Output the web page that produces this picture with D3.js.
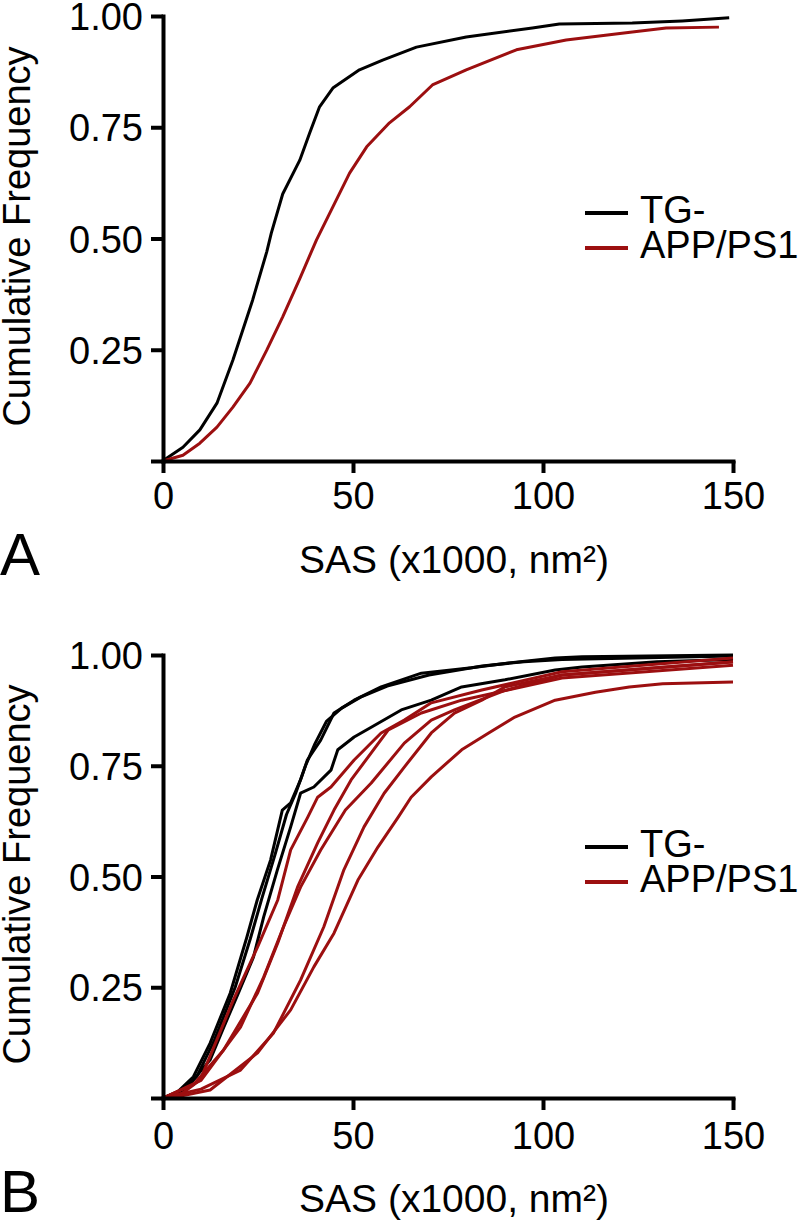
<!DOCTYPE html>
<html><head><meta charset="utf-8">
<script src="https://cdn.jsdelivr.net/npm/d3@7/dist/d3.min.js"></script>
<style>html,body{margin:0;padding:0;background:#fff;}svg{display:block;font-family:"Liberation Sans",Arial,sans-serif;}</style>
</head><body>
<svg id="chart" width="800" height="1222"></svg>
<script>
// ---- data ----
const xTicks = [0, 50, 100, 150];
const yTicks = [0, 0.25, 0.5, 0.75, 1.0];
const yTickLabels = ["", "0.25", "0.50", "0.75", "1.00"];
const legendLabels = ["TG-", "APP/PS1"];
const xLabel = "SAS (x1000, nm²)";
const yLabel = "Cumulative Frequency";

// Panel A
const aTg = [[0,0],[1.05,0.007],[5.25,0.031],[9.7,0.07],[14.2,0.13],[18.4,0.227],[23.6,0.362],[27.3,0.47],[28.5,0.512],[31.5,0.6],[36,0.676],[38.6,0.737],[41.2,0.796],[44.7,0.838],[51.7,0.879],[57.8,0.901],[66.7,0.93],[79.8,0.953],[97.2,0.973],[104.3,0.982],[123.5,0.984],[136.6,0.989],[149,0.996]];
const aApp = [[0,0],[5.25,0.013],[9.7,0.04],[14.2,0.076],[18.4,0.121],[22.9,0.175],[27.3,0.249],[31.5,0.324],[36,0.41],[40.4,0.497],[44.7,0.571],[49.1,0.647],[53.6,0.706],[59.6,0.76],[64.9,0.796],[70.9,0.845],[79.8,0.879],[93,0.924],[106.1,0.946],[123.5,0.964],[132.4,0.973],[146.3,0.975]];

// Panel B
const bTg1 = [[0,0],[4,0.015],[8,0.048],[12.4,0.124],[17.7,0.237],[22.1,0.364],[24.8,0.447],[28.3,0.537],[31.4,0.65],[33.6,0.666],[36.2,0.718],[38,0.763],[41.5,0.808],[45,0.869],[50.3,0.898],[57.4,0.928],[68,0.959],[81.2,0.971],[91,0.982],[103.2,0.993],[110.3,0.996],[150,1.0]];
const bTg2 = [[0,0],[5,0.015],[9,0.05],[13.5,0.13],[19,0.25],[23,0.36],[26,0.45],[29.5,0.55],[32.5,0.64],[35,0.69],[37.5,0.75],[40,0.8],[43,0.85],[47,0.88],[52,0.905],[59,0.93],[70,0.955],[84,0.975],[95,0.985],[105,0.99],[150,0.998]];
const bTg3 = [[0,0],[6,0.02],[12.4,0.086],[16,0.16],[20,0.24],[23.8,0.318],[26.5,0.409],[30.1,0.515],[33.6,0.612],[36.2,0.688],[39.7,0.702],[44.2,0.74],[46,0.786],[50.3,0.815],[54.8,0.837],[62.7,0.876],[70.6,0.898],[78.6,0.928],[90,0.944],[103.2,0.966],[110.3,0.973],[130,0.985],[150,0.99]];
const bApp1 = [[0,0],[5,0.01],[9.8,0.041],[18.5,0.221],[24.9,0.341],[30.2,0.447],[33.6,0.56],[38.1,0.634],[40.7,0.679],[44.2,0.702],[50.3,0.763],[57.4,0.824],[63.5,0.853],[70.6,0.892],[83.9,0.921],[105,0.962],[150,0.993]];
const bApp2 = [[0,0],[8,0.03],[15.9,0.108],[24.9,0.237],[30.2,0.35],[35.4,0.476],[40.7,0.576],[45,0.65],[49.5,0.718],[59.3,0.831],[68,0.869],[78.6,0.898],[105,0.948],[150,0.977]];
const bApp3 = [[0,0],[10,0.04],[20.4,0.16],[26.5,0.273],[31.7,0.386],[36.2,0.476],[41.5,0.56],[48,0.65],[54.8,0.711],[63.5,0.801],[70.6,0.853],[76.7,0.876],[90,0.92],[105,0.955],[150,0.985]];
const bApp4 = [[0,0],[10,0.02],[20.4,0.063],[29.1,0.147],[36.2,0.266],[42.3,0.386],[47.6,0.515],[52.9,0.612],[58.2,0.688],[63.5,0.747],[70.6,0.824],[76.7,0.869],[83.9,0.898],[90,0.928],[105,0.955],[150,0.984]];
const bApp5 = [[0,0],[5,0.005],[12.4,0.018],[24.9,0.102],[33.6,0.199],[39.7,0.296],[45,0.372],[51.3,0.492],[56.6,0.567],[61.9,0.634],[65.3,0.679],[70.6,0.725],[78.6,0.786],[85.7,0.824],[92.6,0.86],[103.2,0.898],[113.8,0.916],[122.7,0.928],[131.5,0.935],[150,0.939]];

const BLACK = "#000000", RED = "#9c0f10";
const svg = d3.select("#chart");

function panel(opt) {
  const x = d3.scaleLinear().domain([0,150]).range([163, 733]);
  const y = d3.scaleLinear().domain([0,1]).range([opt.y0, opt.y1]);
  const g = svg.append("g");

  const line = d3.line().x(d=>x(d[0])).y(d=>y(d[1]));
  opt.black.forEach(s => g.append("path").attr("d", line(s)).attr("fill","none")
      .attr("stroke", BLACK).attr("stroke-width", 3).attr("stroke-linejoin","round"));
  opt.red.forEach(s => g.append("path").attr("d", line(s)).attr("fill","none")
      .attr("stroke", RED).attr("stroke-width", 3).attr("stroke-linejoin","round"));

  const xa = g.append("g").attr("transform", `translate(0,${opt.y0})`)
    .call(d3.axisBottom(x).tickValues(xTicks).tickSize(12).tickSizeOuter(0).tickPadding(opt.xPad).tickFormat(d3.format("d")));
  const ya = g.append("g").attr("transform", `translate(163,0)`)
    .call(d3.axisLeft(y).tickValues(yTicks).tickSize(12).tickSizeOuter(0).tickPadding(8)
      .tickFormat((d,i)=>yTickLabels[i]));
  [xa, ya].forEach(a => {
    a.selectAll("path.domain").attr("stroke", "#000").attr("stroke-width", 4).attr("stroke-linecap","square");
    a.selectAll(".tick line").attr("stroke", "#000").attr("stroke-width", 4);
    a.selectAll("text").attr("fill","#000").style("font-size","38px").style("font-family","'Liberation Sans',Arial,sans-serif");
  });
  xa.selectAll("text").attr("dy","0.78em");
  ya.selectAll("text").attr("dy","0.36em");

  g.append("text").attr("transform", `translate(30,${(opt.y0+opt.y1)/2 - 2}) rotate(-90)`)
    .attr("text-anchor","middle").style("font-size","38px").text(yLabel);
  g.append("text").attr("x", 454).attr("y", opt.labelY).attr("text-anchor","middle")
    .style("font-size","39px").text(xLabel);
  g.append("text").attr("x", 0).attr("y", opt.letterY).style("font-size","60px").text(opt.letter);

  const leg = g.append("g");
  [BLACK, RED].forEach((c,i) => {
    const ly = opt.legY + i*35;
    leg.append("line").attr("x1",585).attr("x2",628).attr("y1",ly).attr("y2",ly)
      .attr("stroke", c).attr("stroke-width", 4);
    leg.append("text").attr("x", 640).attr("y", ly + 10).style("font-size","38px").text(legendLabels[i]);
  });
}

panel({y0: 461, y1: 16, legY: 213, letter: "A", labelY: 573, letterY: 575, xPad: 6, black: [aTg], red: [aApp]});
panel({y0: 1098, y1: 655, legY: 847, letter: "B", labelY: 1212, letterY: 1212, xPad: 9, black: [bTg1, bTg2, bTg3], red: [bApp1, bApp2, bApp3, bApp4, bApp5]});
</script>
</body></html>
